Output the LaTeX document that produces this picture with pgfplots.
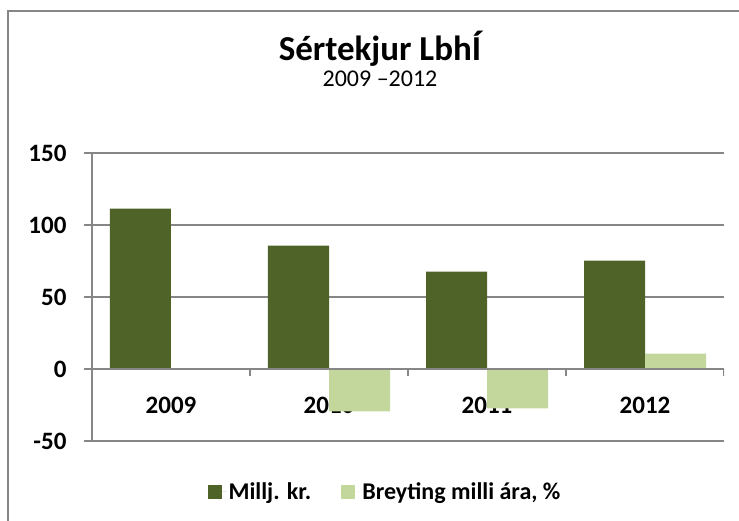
\documentclass[border=0pt]{standalone}
\usepackage{pgfplots}
\pgfplotsset{compat=1.18}
\usepackage{fontspec}
\setmainfont{Carlito}
\definecolor{darkg}{HTML}{4F6228}
\definecolor{lightg}{HTML}{C3D69B}
\definecolor{gridg}{HTML}{868686}
\begin{document}
\begin{tikzpicture}[x=1pt,y=1pt]
\useasboundingbox (0,0) rectangle (739,521);
\draw[gridg, line width=2pt] (8,0) -- (8,510) -- (740,510);
\node[anchor=base, font=\fontsize{35}{38}\selectfont\bfseries] at (380,460) {Sértekjur LbhÍ};
\node[anchor=base, font=\fontsize{24}{28}\selectfont] at (380,434) {2009 –2012};
\begin{axis}[
  at={(92pt,80pt)}, anchor=south west,
  scale only axis, width=632pt, height=288pt,
  xmin=-0.5, xmax=3.5, ymin=-50, ymax=150,
  ybar=0pt, bar width=61pt,
  axis x line*=bottom, axis y line*=left,
  x axis line style={draw=none},
  y axis line style={gridg, line width=1.3pt, -},
  ytick={-50,0,50,100,150},
  ymajorgrids, grid style={gridg, line width=1.3pt},
  xtick={-0.5,0.5,1.5,2.5,3.5}, xticklabels={2009,2010,2011,2012},
  x tick label as interval,
  xtick style={draw=none}, xtick align=inside,
  ytick style={gridg, line width=1.3pt}, ytick align=outside,
  major tick length=8pt,
  ticklabel style={font=\fontsize{25}{28}\selectfont\bfseries},
  /pgf/number format/assume math mode=true,
  xticklabel style={anchor=center, yshift=36pt},
  yticklabel style={xshift=-14pt},
  legend style={at={(0.4636,-0.177)}, anchor=center, draw=none, fill=none,
    legend columns=2, font=\fontsize{24}{28}\selectfont\bfseries,
    /tikz/every even column/.append style={column sep=28pt}},
  legend image code/.code={\fill[#1] (0pt,-7pt) rectangle (14pt,7pt); \path (0pt,0pt) -- (19pt,0pt);},
]
\addplot[fill=darkg, draw=none] coordinates {(0,111.3) (1,85.6) (2,67.6) (3,75.2)};
\addplot[fill=lightg, draw=none] coordinates {(0,0) (1,-29.4) (2,-27.3) (3,10.6)};
\legend{Millj. kr., {Breyting milli ára, \%}}
\draw[gridg, line width=1.3pt] (axis cs:-0.5,0) -- (axis cs:3.5,0);
\draw[gridg, line width=1.3pt] (axis cs:0.5,0) -- ++(0pt,-7pt);
\draw[gridg, line width=1.3pt] (axis cs:1.5,0) -- ++(0pt,-7pt);
\draw[gridg, line width=1.3pt] (axis cs:2.5,0) -- ++(0pt,-7pt);
\draw[gridg, line width=1.3pt] (axis cs:3.5,0) -- ++(0pt,-7pt);
\end{axis}
\end{tikzpicture}
\end{document}
